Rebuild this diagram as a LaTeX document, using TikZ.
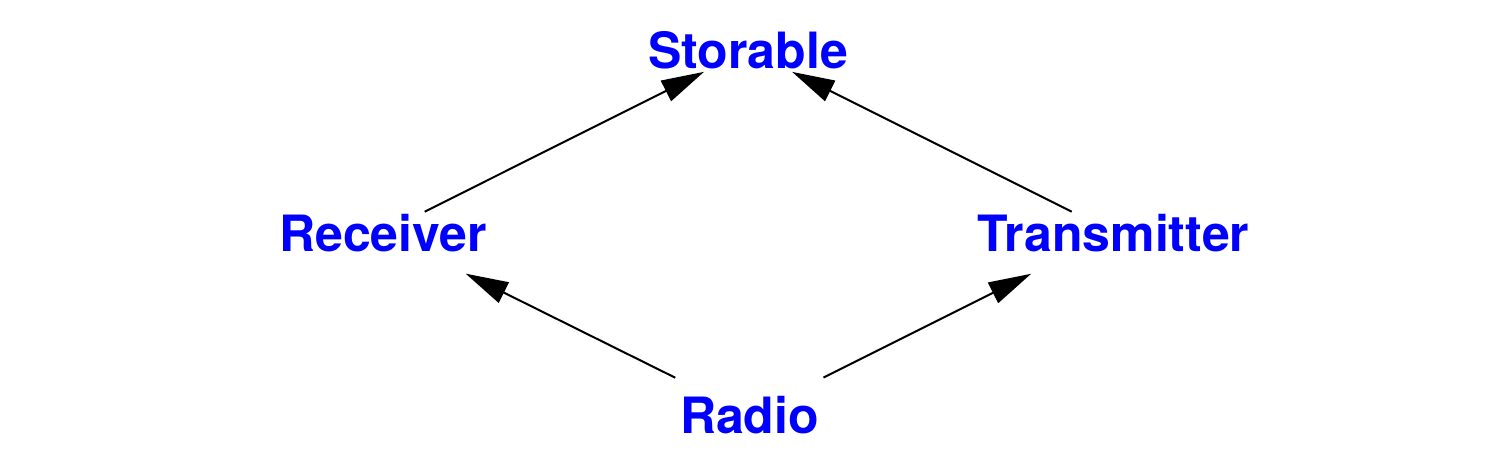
\documentclass[tikz,border=0pt]{standalone}
\usepackage{fontspec}
\setmainfont{TeX Gyre Heros}
\usetikzlibrary{arrows.meta}
\definecolor{lblue}{RGB}{0,0,255}
\tikzset{
  lbl/.style={inner sep=0pt, anchor=base, text=lblue, font=\fontsize{37.5}{45}\selectfont\bfseries},
  arr/.style={-{Triangle[length=32pt,width=17pt]}, line width=1.5pt, black},
  uparr/.style={arr, shorten <=3pt, shorten >=5pt},
  lowarr/.style={arr, shorten <=30pt, shorten >=37pt}
}
\begin{document}
\begin{tikzpicture}[x=0.75pt,y=-0.75pt]
\useasboundingbox (0,0) rectangle (1486,450);
\node[lbl] (sto) at (748,68) {Storable};
\node[lbl] (rec) at (383,251) {Receiver};
\node[lbl] (tra) at (1113.5,251) {Transmitter};
\node[lbl] (rad) at (749.5,433) {Radio};
\draw[uparr] (rec) -- (sto);
\draw[uparr] (tra) -- (sto);
\draw[lowarr] (rad) -- (rec);
\draw[lowarr] (rad) -- (tra);
\end{tikzpicture}
\end{document}
